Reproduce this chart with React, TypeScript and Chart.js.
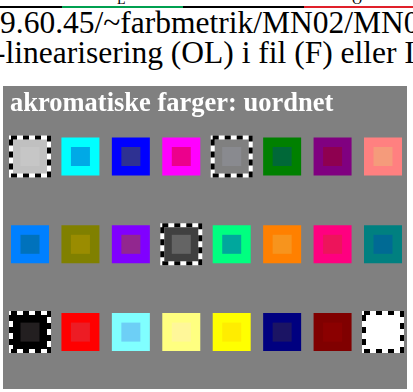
import React, { useEffect, useRef } from 'react';
import { Chart, registerables } from 'chart.js';

Chart.register(...registerables);

// ---- data ----
const columns = [1, 2, 3, 4, 5, 6, 7, 8];
const rows = [1, 2, 3];
const outerColors = [
  ['#c0c0c0', '#00ffff', '#0000ff', '#ff00ff', '#808080', '#008000', '#800080', '#ff8080'],
  ['#0080ff', '#808000', '#8000ff', '#404040', '#00ff80', '#ff8000', '#ff0080', '#008080'],
  ['#000000', '#ff0000', '#80ffff', '#ffff80', '#ffff00', '#000080', '#800000', '#ffffff'],
];
const innerColors = [
  ['#c6c6c6', '#00a9e6', '#2e3192', '#ec008c', '#898a8f', '#006838', '#8e0050', '#f59b7b'],
  ['#0072bc', '#9a8c00', '#92278f', '#646464', '#00a79d', '#f7941d', '#ed145b', '#006a94'],
  ['#231f20', '#ed1c24', '#6dcff6', '#fff799', '#ffed00', '#1b1464', '#8b0000', '#ffffff'],
];
const achromatic = [
  [1, 0, 0, 0, 1, 0, 0, 0],
  [0, 0, 0, 1, 0, 0, 0, 0],
  [1, 0, 0, 0, 0, 0, 0, 1],
];
const titleText = 'akromatiske farger: uordnet';
const headerLines = ['9.60.45/~farbmetrik/MN02/MN02/', '-linearisering (OL) i fil (F) eller IO'];
const stripeLabels = ['L', 'O'];

const OUTER_R = 38 / Math.SQRT2;
const INNER_R = 19 / Math.SQRT2;

const dashPlugin = {
  id: 'dashOverlay',
  beforeDatasetDraw(chart: any, args: any) {
    if (chart.data.datasets[args.index].label === 'dashes') {
      chart.ctx.save();
      chart.ctx.setLineDash([6, 6]);
    }
  },
  afterDatasetDraw(chart: any, args: any) {
    if (chart.data.datasets[args.index].label === 'dashes') {
      chart.ctx.restore();
    }
  },
};

function ColorChart() {
  const ref = useRef<HTMLCanvasElement>(null);
  useEffect(() => {
    const pts: any[] = [];
    const outerBg: string[] = [];
    const outerBorder: string[] = [];
    const outerBW: number[] = [];
    const innerBg: string[] = [];
    const dashPts: any[] = [];
    rows.forEach((r, ri) => {
      columns.forEach((c, ci) => {
        pts.push({ x: c, y: r });
        outerBg.push(outerColors[ri][ci]);
        innerBg.push(innerColors[ri][ci]);
        const a = achromatic[ri][ci] === 1;
        outerBorder.push(a ? '#ffffff' : 'rgba(0,0,0,0)');
        outerBW.push(a ? 4 : 0);
        if (a) dashPts.push({ x: c, y: r });
      });
    });
    const chart = new Chart(ref.current as HTMLCanvasElement, {
      type: 'scatter',
      data: {
        datasets: [
          {
            label: 'inner',
            data: pts,
            order: 1,
            pointStyle: 'rect',
            pointRadius: INNER_R,
            pointHoverRadius: 0,
            pointBackgroundColor: innerBg,
            pointBorderWidth: 0,
            clip: false,
          },
          {
            label: 'dashes',
            data: dashPts,
            order: 2,
            pointStyle: 'rect',
            pointRadius: OUTER_R,
            pointHoverRadius: 0,
            pointBackgroundColor: 'rgba(0,0,0,0)',
            pointBorderColor: '#000000',
            pointBorderWidth: 4,
            clip: false,
          },
          {
            label: 'outer',
            data: pts,
            order: 3,
            pointStyle: 'rect',
            pointRadius: OUTER_R,
            pointHoverRadius: 0,
            pointBackgroundColor: outerBg,
            pointBorderColor: outerBorder,
            pointBorderWidth: outerBW,
            clip: false,
          },
        ] as any,
      },
      options: {
        animation: false,
        responsive: false,
        events: [],
        layout: { autoPadding: false, padding: { left: 7, right: 7, top: 0, bottom: 0 } },
        plugins: {
          legend: { display: false },
          tooltip: { enabled: false },
          title: {
            display: true,
            text: titleText,
            align: 'start',
            color: '#ffffff',
            font: { family: '"Liberation Serif", serif', size: 26.5, weight: 'bold', lineHeight: 1.2 },
            padding: { top: 2, bottom: 0 },
          },
        },
        scales: {
          x: { type: 'linear', display: false, min: 0.6034, max: 8.3371 },
          y: { type: 'linear', display: false, reverse: true, min: 0.582, max: 3.648 },
        },
      } as any,
      plugins: [dashPlugin],
    });
    return () => chart.destroy();
  }, []);
  return (
    <canvas
      ref={ref}
      width={404}
      height={303}
      style={{ position: 'absolute', left: 3, top: 86, width: 404, height: 303, background: '#808080' }}
    />
  );
}

export default function App() {
  const serif = '"Liberation Serif", "Times New Roman", serif';
  return (
    <div
      style={{
        position: 'fixed',
        left: 0,
        top: 0,
        width: 413,
        height: 392,
        overflow: 'hidden',
        background: '#ffffff',
        fontFamily: serif,
        color: '#000',
      }}
    >
      <div style={{ position: 'absolute', left: 0, top: 6, width: 62, height: 2, background: '#000' }} />
      <div style={{ position: 'absolute', left: 62, top: 6, width: 121, height: 2, background: '#00a050' }} />
      <div style={{ position: 'absolute', left: 183, top: 6, width: 121, height: 2, background: '#000' }} />
      <div style={{ position: 'absolute', left: 304, top: 6, width: 109, height: 2, background: '#e0202a' }} />
      <div style={{ position: 'absolute', left: 117, top: -7, fontSize: 14, lineHeight: '14px' }}>{stripeLabels[0]}</div>
      <div style={{ position: 'absolute', left: 352, top: -7, fontSize: 14, lineHeight: '14px' }}>{stripeLabels[1]}</div>
      <div style={{ position: 'absolute', left: 0, top: 7, fontSize: 31.5, lineHeight: '31.5px', whiteSpace: 'nowrap' }}>
        {headerLines[0]}
      </div>
      <div style={{ position: 'absolute', left: -5, top: 37, fontSize: 31.5, lineHeight: '31.5px', whiteSpace: 'nowrap' }}>
        {headerLines[1]}
      </div>
      <ColorChart />
    </div>
  );
}
